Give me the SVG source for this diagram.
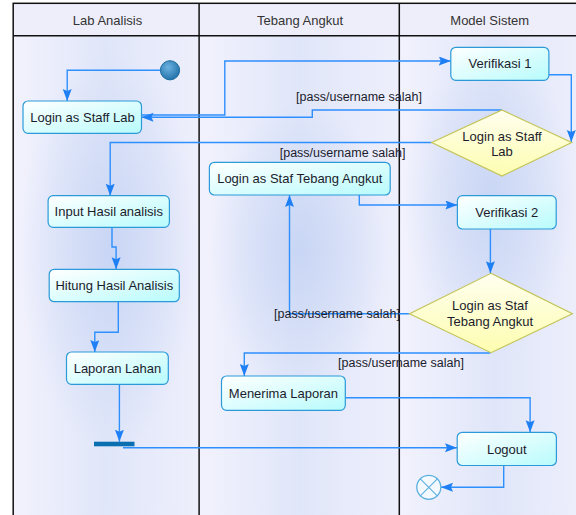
<svg xmlns="http://www.w3.org/2000/svg" width="576" height="515" viewBox="0 0 576 515">
<style>
text{font-family:"Liberation Sans",Arial,sans-serif;fill:#1c1c2c}
.hdr{font-size:13px;text-anchor:middle;fill:#333}
.nt{font-size:13px;text-anchor:middle}
.lbl{font-size:12.5px;text-anchor:middle}
.act{fill:url(#actFill);stroke:#2c9ad8;stroke-width:1.2}
.dec{fill:url(#decFill);stroke:#c4c45a;stroke-width:1.2}
.edge{fill:none;stroke:#2e8fff;stroke-width:1.4;marker-end:url(#arr)}
.lane{stroke:#111;stroke-width:1.5;fill:none}
.glow{fill:url(#glow)}
</style>
<defs>
<linearGradient id="actFill" x1="0" y1="0" x2="1" y2="1">
<stop offset="0" stop-color="#ffffff"/>
<stop offset="1" stop-color="#b8fbfc"/>
</linearGradient>
<linearGradient id="decFill" x1="0" y1="0" x2="0" y2="1">
<stop offset="0" stop-color="#fffff0"/>
<stop offset="1" stop-color="#fdfdb0"/>
</linearGradient>
<linearGradient id="laneBg" x1="0" y1="0" x2="1" y2="0">
<stop offset="0" stop-color="#f2f2fd"/>
<stop offset="0.5" stop-color="#e0e6f9"/>
<stop offset="1" stop-color="#eeeffc"/>
</linearGradient>
<radialGradient id="glow">
<stop offset="0" stop-color="#c6d4f4" stop-opacity="0.9"/>
<stop offset="1" stop-color="#c6d4f4" stop-opacity="0"/>
</radialGradient>
<radialGradient id="initFill" cx="0.4" cy="0.35" r="0.7">
<stop offset="0" stop-color="#6cb2e0"/>
<stop offset="1" stop-color="#1f6fa8"/>
</radialGradient>
<marker id="arr" markerUnits="userSpaceOnUse" markerWidth="14" markerHeight="10" refX="12" refY="4.5" orient="auto">
<path d="M0,0 L12,4.5 L0,9 L2,4.5 z" fill="#1f80f5"/>
</marker>
</defs>

<g id="lanes">
<rect x="13.2" y="3.3" width="570" height="520" fill="#eeeefb"/>
<rect x="13.2" y="35.7" width="186" height="490" fill="url(#laneBg)"/>
<rect x="199.1" y="35.7" width="200.2" height="490" fill="url(#laneBg)"/>
<rect x="399.3" y="35.7" width="190" height="490" fill="url(#laneBg)"/>
<ellipse class="glow" cx="110" cy="250" rx="90" ry="200"/>
<ellipse class="glow" cx="300" cy="250" rx="90" ry="150"/>
<ellipse class="glow" cx="490" cy="200" rx="85" ry="160"/>
<rect x="13.2" y="3.3" width="570" height="32.4" fill="#eeeefa"/>
<rect class="lane" x="13.2" y="3.3" width="570" height="520"/>
<line class="lane" x1="13.2" y1="35.7" x2="576" y2="35.7"/>
<line class="lane" x1="199.1" y1="3.3" x2="199.1" y2="515"/>
<line class="lane" x1="399.3" y1="3.3" x2="399.3" y2="515"/>
<text class="hdr" x="107.5" y="24.5">Lab Analisis</text>
<text class="hdr" x="300" y="24.5">Tebang Angkut</text>
<text class="hdr" x="489.7" y="24.5">Model Sistem</text>
</g>

<g id="connectors">
<path class="edge" d="M160.5,70.3 H67.2 V101"/>
<path class="edge" d="M141.5,115 H224.8 V61 H450.8"/>
<path class="edge" d="M548.9,74.7 H571.3 V142"/>
<path class="edge" d="M502,110 H312.3 V117.3 H141.5"/>
<path class="edge" d="M431.7,142.5 H110.2 V195.7"/>
<path class="edge" d="M112,227.3 V247 H116.1 V269.3"/>
<path class="edge" d="M118.3,301.7 V332.3 H94.8 V352"/>
<path class="edge" d="M119.4,384.3 V441.7"/>
<path class="edge" d="M123,447.7 H457"/>
<path class="edge" d="M359.3,195 V205 H457.4"/>
<path class="edge" d="M490.4,229 V273.3"/>
<path class="edge" d="M409.6,313.7 H289.5 V195"/>
<path class="edge" d="M490.4,353 H244.3 V376"/>
<path class="edge" d="M345.3,397.7 H530.1 V432.3"/>
<path class="edge" d="M503.7,465.7 V487.3 H441"/>
<text class="lbl" x="359" y="101">[pass/username salah]</text>
<text class="lbl" x="342.6" y="157">[pass/username salah]</text>
<text class="lbl" x="337" y="317.5">[pass/username salah]</text>
<text class="lbl" x="401" y="367">[pass/username salah]</text>
</g>

<g id="start">
<circle cx="170" cy="70.3" r="9.6" fill="url(#initFill)" stroke="#1a6ca0" stroke-width="1"/>
</g>
<g id="login-staff-lab">
<rect class="act" x="23" y="101" width="118.5" height="32.3" rx="5"/>
<text class="nt" x="82.5" y="121.5">Login as Staff Lab</text>
</g>
<g id="verifikasi-1">
<rect class="act" x="450.8" y="47.3" width="98.1" height="33" rx="5"/>
<text class="nt" x="500" y="68.3">Verifikasi 1</text>
</g>
<g id="decision-login-staff-lab">
<polygon class="dec" points="502,110 571.7,142.5 502,176 431.7,142.5"/>
<text class="nt" x="502" y="140.5">Login as Staff</text>
<text class="nt" x="502" y="156">Lab</text>
</g>
<g id="input-hasil-analisis">
<rect class="act" x="48.1" y="195.7" width="121.3" height="31.6" rx="5"/>
<text class="nt" x="108.8" y="216">Input Hasil analisis</text>
</g>
<g id="hitung-hasil-analisis">
<rect class="act" x="49.2" y="269.3" width="130.1" height="32.4" rx="5"/>
<text class="nt" x="114.3" y="290">Hitung Hasil Analisis</text>
</g>
<g id="laporan-lahan">
<rect class="act" x="66.5" y="352" width="101.8" height="32.3" rx="5"/>
<text class="nt" x="117.4" y="372.7">Laporan Lahan</text>
</g>
<g id="fork-bar">
<rect x="94" y="441.7" width="40.5" height="4.6" fill="#0a6fb0"/>
</g>
<g id="login-staf-tebang-angkut">
<rect class="act" x="209.4" y="162.3" width="180.8" height="32.7" rx="5"/>
<text class="nt" x="299.8" y="183.2">Login as Staf Tebang Angkut</text>
</g>
<g id="verifikasi-2">
<rect class="act" x="457.4" y="195.7" width="98.8" height="33.3" rx="5"/>
<text class="nt" x="506.8" y="216.9">Verifikasi 2</text>
</g>
<g id="decision-login-staf-tebang">
<polygon class="dec" points="491,273.3 572.4,313.7 491,352.7 409.6,313.7"/>
<text class="nt" x="490" y="309.8">Login as Staf</text>
<text class="nt" x="490" y="325.5">Tebang Angkut</text>
</g>
<g id="menerima-laporan">
<rect class="act" x="221.5" y="376" width="123.8" height="34.3" rx="5"/>
<text class="nt" x="283.4" y="397.7">Menerima Laporan</text>
</g>
<g id="logout">
<rect class="act" x="457.2" y="432.3" width="99.2" height="33.2" rx="5"/>
<text class="nt" x="506.8" y="453.5">Logout</text>
</g>
<g id="end">
<circle cx="428.8" cy="487.3" r="12" fill="#f4f8ff" stroke="#5cb0e0" stroke-width="1.3"/>
<path d="M420.3,478.8 L437.3,495.8 M437.3,478.8 L420.3,495.8" stroke="#5cb0e0" stroke-width="1.1"/>
</g>
</svg>
